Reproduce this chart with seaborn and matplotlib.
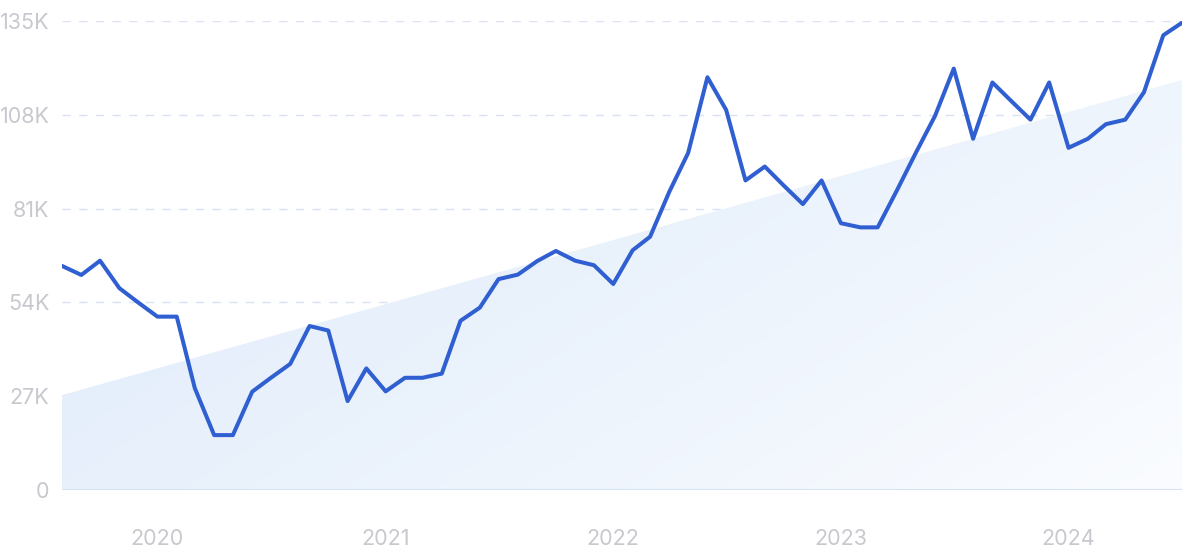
import numpy as np
import pandas as pd
import matplotlib
matplotlib.use("Agg")
import matplotlib.pyplot as plt
from matplotlib.colors import LinearSegmentedColormap
import seaborn as sns

# monthly search volume (thousands), Aug 2019 .. Jul 2024
months = pd.date_range("2019-08-01", periods=60, freq="MS")
volume = [64.5, 61.9, 66.0, 58.1, 54.0, 49.9, 49.9, 29.3, 15.8, 15.8,
          28.3, 32.3, 36.3, 47.2, 45.9, 25.6, 35.0, 28.4, 32.3, 32.3,
          33.5, 48.7, 52.5, 60.7, 62.0, 65.9, 68.8, 66.0, 64.7, 59.3,
          69.0, 72.9, 85.9, 97.0, 118.8, 109.4, 89.1, 93.1, 87.7, 82.3,
          89.1, 76.8, 75.6, 75.6, 86.3, 97.0, 107.7, 121.3, 101.1, 117.3,
          112.0, 106.6, 117.3, 98.5, 101.1, 105.3, 106.6, 114.5, 130.9, 134.5]
# trend line endpoints (thousands)
trend_dates = [months[0], months[-1]]
trend_vals = [27.3, 118.0]

yticks = [0, 27, 54, 81, 108, 135]
ytick_labels = ["0", "27K", "54K", "81K", "108K", "135K"]
year_ticks = pd.to_datetime(["2020-01-01", "2021-01-01", "2022-01-01", "2023-01-01", "2024-01-01"])
year_labels = ["2020", "2021", "2022", "2023", "2024"]

sns.set_theme(style="white")
plt.rcParams["font.family"] = ["Inter", "DejaVu Sans"]

fig = plt.figure(figsize=(12, 5.52), dpi=100)
ax = fig.add_axes([62 / 1200, 1 - 490 / 552, 1120 / 1200, 469 / 552])

df = pd.DataFrame({"month": months, "volume": volume})

# trend area with soft diagonal gradient
poly = ax.fill_between(trend_dates, trend_vals, 0, color="none", lw=0)
cmap = LinearSegmentedColormap.from_list("fade", ["#dce9fa", "#eaf2fc", "#fafcff"])
gx, gy = np.meshgrid(np.linspace(0, 1, 300), np.linspace(0, 1, 200))
grad = 0.6 * gx + 0.4 * gy
img = ax.imshow(grad, cmap=cmap, aspect="auto", extent=[0, 1, 0, 1],
                transform=ax.transAxes, origin="upper", zorder=1)
img.set_clip_path(poly.get_paths()[0], transform=ax.transData)

for v in yticks[1:]:
    ax.axhline(v, color="#d8e2f2", lw=1, ls=(0, (6, 6)), zorder=0.5)
ax.axhline(0, color="#d6e3f7", lw=1.5, zorder=2)

sns.lineplot(data=df, x="month", y="volume", color="#2f5fd1", lw=2.9, ax=ax, zorder=3)

ax.set_xlim(months[0], months[-1])
ax.set_ylim(0, 135)
ax.set_yticks(yticks)
ax.set_yticklabels(ytick_labels)
ax.set_xticks(year_ticks)
ax.set_xticklabels(year_labels)
ax.tick_params(axis="both", length=0, labelsize=15.5, colors="#c8c8ce")
ax.tick_params(axis="y", pad=9)
ax.tick_params(axis="x", pad=28)
ax.set_xlabel("")
ax.set_ylabel("")
for s in ax.spines.values():
    s.set_visible(False)

fig.savefig("out.png", dpi=100, facecolor="white")
